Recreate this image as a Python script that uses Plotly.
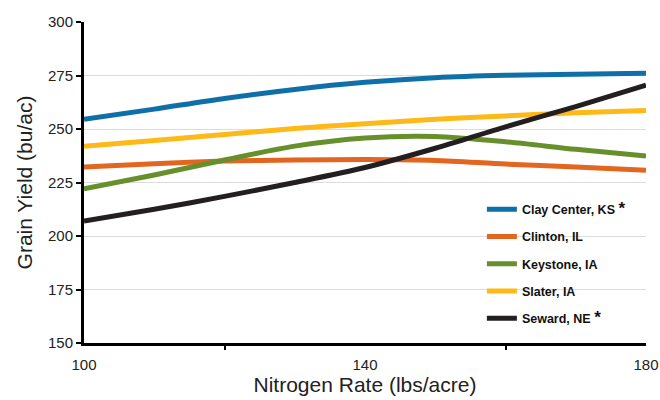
import plotly.graph_objects as go

#%% Data
nitrogen = [100, 110, 120, 130, 140, 150, 160, 170, 180]

clay_center = [254.5, 259.3, 264.3, 268.5, 271.8, 274.0, 275.1, 275.6, 276.1]
clinton = [232.3, 233.8, 235.0, 235.5, 235.7, 235.3, 233.6, 232.3, 230.7]
keystone = [222.0, 228.5, 235.5, 242.0, 245.8, 246.5, 244.0, 240.5, 237.4]
slater = [241.9, 244.6, 247.4, 250.2, 252.5, 254.5, 256.1, 257.6, 258.7]
seward = [207.0, 212.5, 218.5, 225.0, 232.0, 241.0, 251.0, 260.5, 270.5]

names = ['Clay Center, KS <span style="font-size:17px">*</span>',
         'Clinton, IL',
         'Keystone, IA',
         'Slater, IA',
         'Seward, NE <span style="font-size:17px">*</span>']
colors = ['#0F6FA8', '#E2661F', '#67902C', '#FDB917', '#231F20']
series = [clay_center, clinton, keystone, slater, seward]

x_ticks = [100, 140, 180]
x_minor = [120, 160]
y_ticks = [150, 175, 200, 225, 250, 275, 300]

#%% Figure
fig = go.Figure()
for i, (nm, col, ys) in enumerate(zip(names, colors, series)):
    fig.add_trace(go.Scatter(x=nitrogen, y=ys, mode='lines', name='<b>' + nm + '</b>',
                             legendgroup=str(i),
                             line=dict(color=col, width=5, shape='spline', smoothing=0.8)))

fig.update_layout(
    width=660, height=400,
    margin=dict(l=84, r=14, t=22, b=57),
    paper_bgcolor='white', plot_bgcolor='white',
    font=dict(family='Liberation Sans, Arial, sans-serif', color='#222222'),
    showlegend=True,
    legend=dict(x=0.708, y=0.462, xanchor='left', yanchor='top',
                bgcolor='rgba(0,0,0,0)', tracegroupgap=8,
                font=dict(size=12.5, color='#111111', family='Liberation Sans, Arial, sans-serif')),
)

fig.update_xaxes(range=[100, 180], tickvals=x_ticks, automargin=False,
                 showline=True, linecolor='black', linewidth=3,
                 ticks='', ticklabelstandoff=6,
                 minor=dict(tickvals=x_minor, ticks='outside', ticklen=4, tickwidth=2, tickcolor='black'),
                 showgrid=False, zeroline=False,
                 tickfont=dict(size=15, color='#222222'),
                 title=dict(text='Nitrogen Rate (lbs/acre)', font=dict(size=21, color='#222222'), standoff=6))
fig.update_yaxes(range=[150, 300], tickvals=y_ticks, automargin=False,
                 showline=True, linecolor='black', linewidth=3,
                 ticks='outside', ticklen=5, tickwidth=2, tickcolor='black',
                 showgrid=True, gridcolor='#DCDCDC', gridwidth=1, zeroline=False,
                 tickfont=dict(size=15, color='#222222'),
                 title=dict(text='Grain Yield (bu/ac)', font=dict(size=21, color='#222222'), standoff=10))

# drop the page's default body margin so the figure sits at the window corner
fig.write_html("out.html", config={'displayModeBar': False},
               post_script="document.body.style.margin='0px';")
